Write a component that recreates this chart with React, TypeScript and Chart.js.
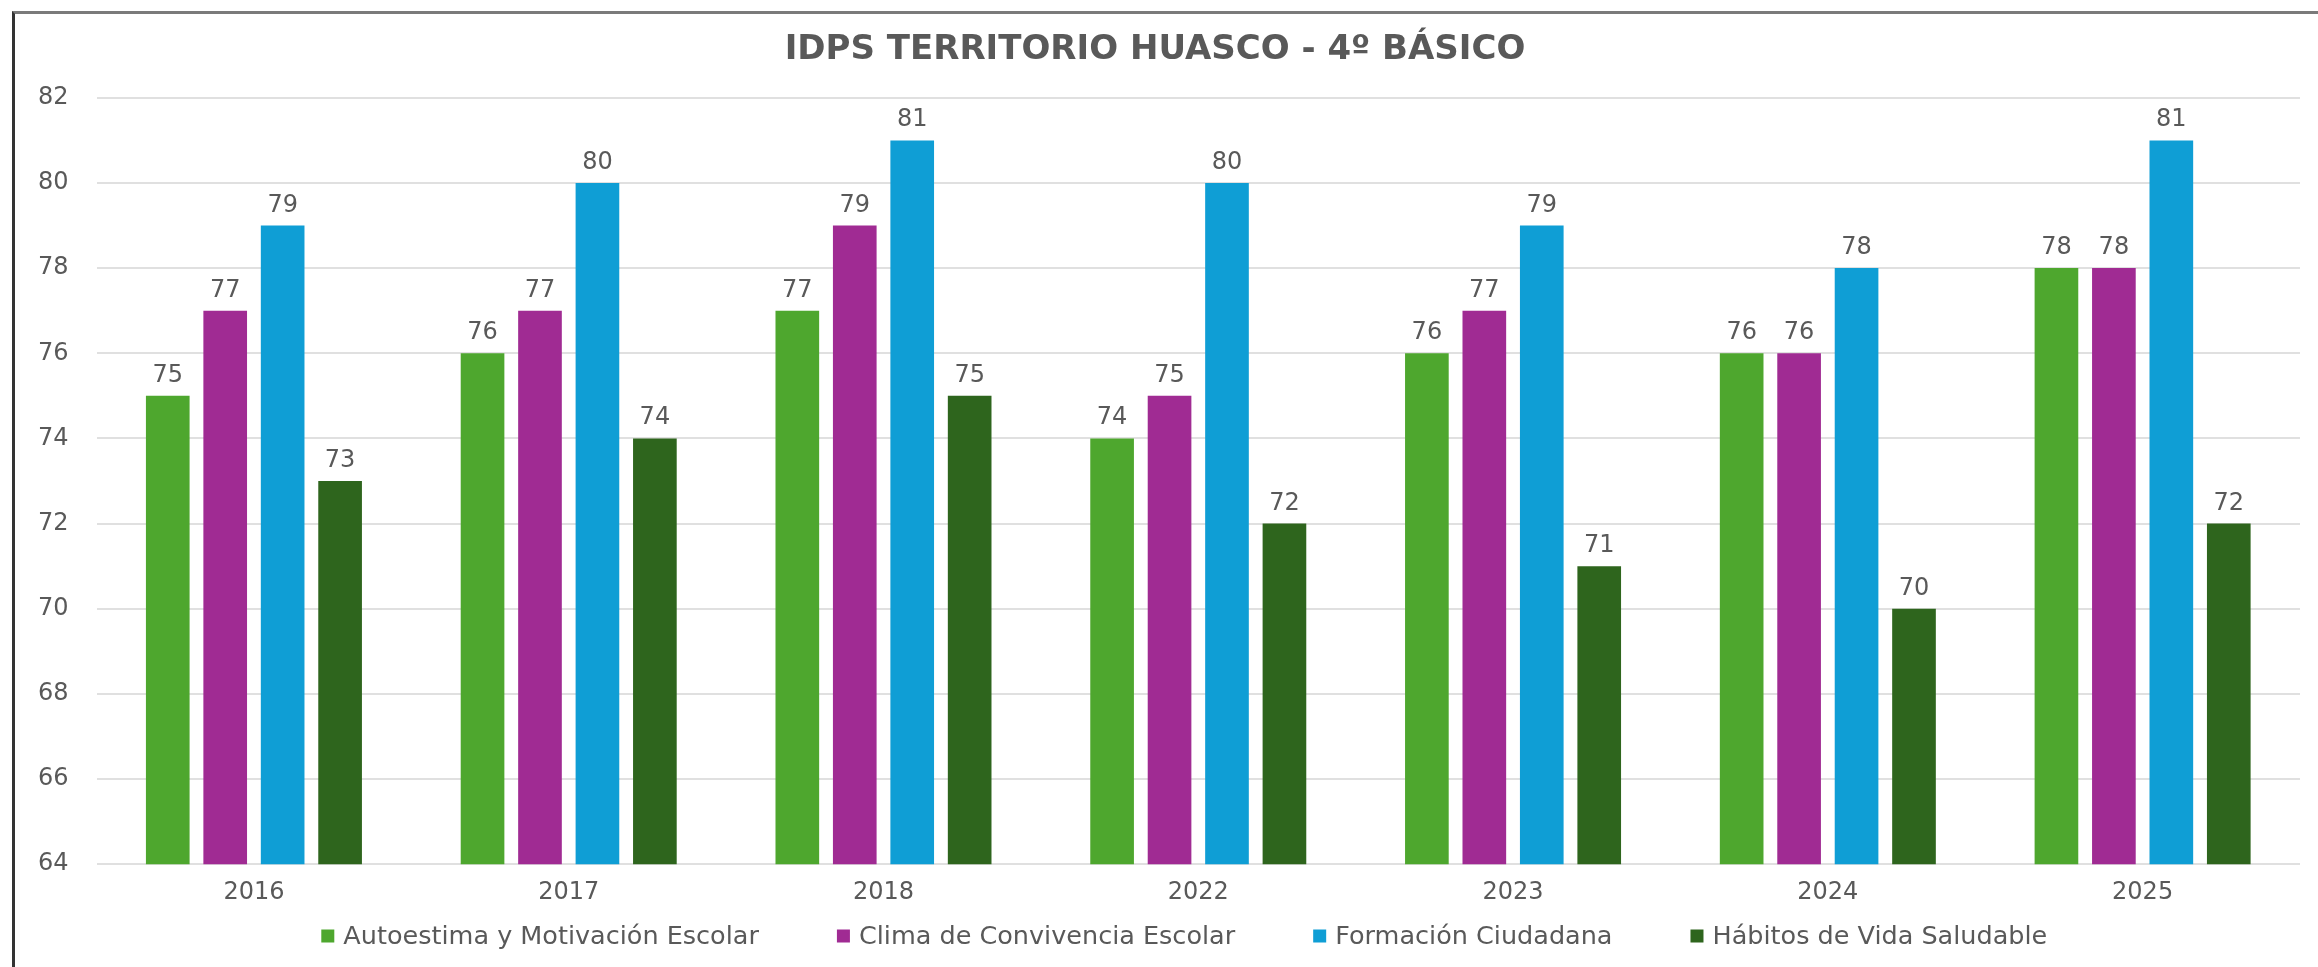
import React, { useEffect, useRef } from "react";
import { Chart, registerables } from "chart.js";

Chart.register(...registerables);

const categories = ["2016", "2017", "2018", "2022", "2023", "2024", "2025"];
const autoestima = [75, 76, 77, 74, 76, 76, 78];
const clima = [77, 77, 79, 75, 77, 76, 78];
const formacion = [79, 80, 81, 80, 79, 78, 81];
const habitos = [73, 74, 75, 72, 71, 70, 72];
const seriesNames = [
  "Autoestima y Motivación Escolar",
  "Clima de Convivencia Escolar",
  "Formación Ciudadana",
  "Hábitos de Vida Saludable",
];
const seriesColors = ["#4EA72E", "#A02B93", "#0F9ED5", "#2E651D"];
const titleText = "IDPS TERRITORIO HUASCO - 4º BÁSICO";

const TEXT = "#595959";
const FONT = "'DejaVu Sans'";

const valueLabels = {
  id: "valueLabels",
  afterDatasetsDraw(chart: any) {
    const ctx = chart.ctx;
    ctx.save();
    ctx.font = `24px ${FONT}`;
    ctx.fillStyle = TEXT;
    ctx.textAlign = "center";
    ctx.textBaseline = "alphabetic";
    chart.data.datasets.forEach((ds: any, i: number) => {
      const meta = chart.getDatasetMeta(i);
      meta.data.forEach((bar: any, j: number) => {
        ctx.fillText(String(ds.data[j]), bar.x, bar.y - 14);
      });
    });
    ctx.restore();
  },
};

const bottomLegend = {
  id: "bottomLegend",
  afterDraw(chart: any) {
    const ctx = chart.ctx;
    const items = chart.data.datasets.map((ds: any) => ({ text: ds.label, color: ds.backgroundColor }));
    ctx.save();
    ctx.font = `25.5px ${FONT}`;
    const box = 13;
    const boxGap = 9;
    const itemGap = 78;
    const widths = items.map((it: any) => box + boxGap + ctx.measureText(it.text).width);
    const total = widths.reduce((a: number, b: number) => a + b, 0) + itemGap * (items.length - 1);
    const cx = (chart.chartArea.left + chart.chartArea.right) / 2 - 14;
    const y = chart.height - 31;
    let x = cx - total / 2;
    ctx.textBaseline = "middle";
    ctx.textAlign = "left";
    items.forEach((it: any, i: number) => {
      ctx.fillStyle = it.color;
      ctx.fillRect(x, y - box / 2, box, box);
      ctx.fillStyle = TEXT;
      ctx.fillText(it.text, x + box + boxGap, y + 1);
      x += widths[i] + itemGap;
    });
    ctx.restore();
  },
};

export default function App() {
  const ref = useRef<HTMLCanvasElement>(null);
  useEffect(() => {
    if (!ref.current) return;
    const data = [autoestima, clima, formacion, habitos];
    const chart = new Chart(ref.current, {
      type: "bar",
      data: {
        labels: categories,
        datasets: data.map((d, i) => ({
          label: seriesNames[i],
          data: d,
          backgroundColor: seriesColors[i],
          categoryPercentage: 0.73,
          barPercentage: 0.76,
        })),
      },
      options: {
        responsive: false,
        animation: false,
        maintainAspectRatio: false,
        layout: { padding: { left: 10, right: 18, top: 0, bottom: 54 } },
        plugins: {
          title: {
            display: true,
            text: titleText,
            color: TEXT,
            font: { family: FONT, size: 34, weight: "bold" },
            padding: { top: 30, bottom: 27 },
          },
          legend: { display: false },
          tooltip: { enabled: false },
        },
        scales: {
          x: {
            grid: { display: false },
            border: { display: false },
            ticks: { color: TEXT, font: { family: FONT, size: 24 }, padding: 6 },
          },
          y: {
            min: 64,
            max: 82,
            grid: { color: "#e0e0e0", lineWidth: 2, drawTicks: false },
            border: { display: false },
            ticks: {
              stepSize: 2,
              color: TEXT,
              font: { family: FONT, size: 24 },
              padding: 28,
            },
          },
        },
      },
      plugins: [valueLabels, bottomLegend],
    });
    return () => chart.destroy();
  }, []);
  return (
    <div style={{ position: "fixed", left: 0, top: 0, width: 2318, height: 967, background: "#fff", overflow: "hidden" }}>
      <canvas ref={ref} width={2318} height={967} style={{ position: "absolute", left: 0, top: 0 }} />
      <div
        style={{
          position: "absolute",
          left: 12,
          top: 11,
          width: 2400,
          height: 1000,
          borderTop: "3px solid #7a7a7a",
          borderLeft: "3px solid #333",
          pointerEvents: "none",
        }}
      />
    </div>
  );
}
